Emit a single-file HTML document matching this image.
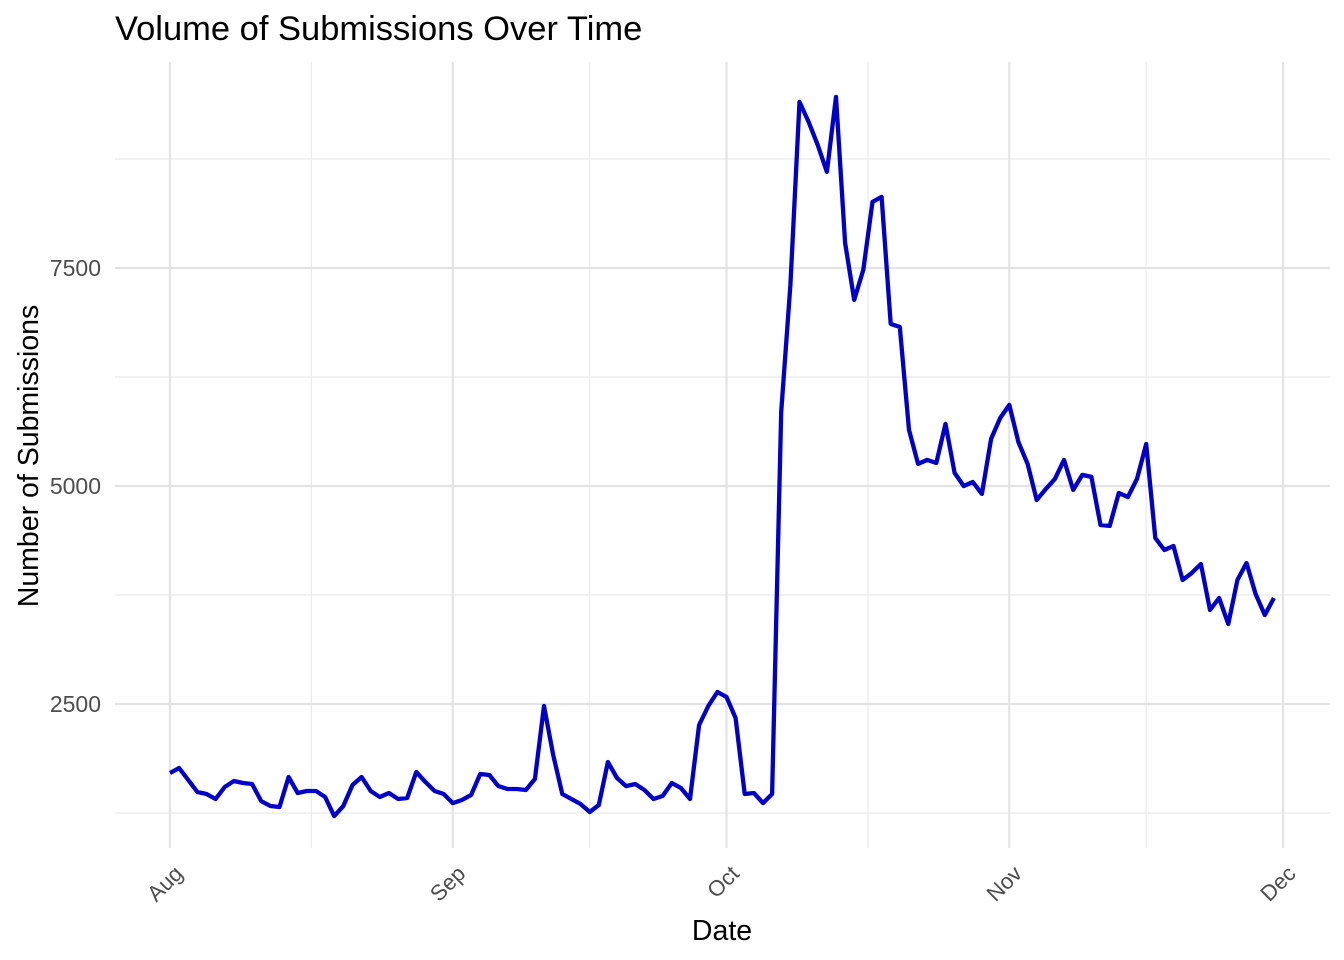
<!DOCTYPE html>
<html><head><meta charset="utf-8"><style>
body{margin:0;background:#fff;}
svg{display:block;font-family:"Liberation Sans",Arial,sans-serif;}
</style></head><body>
<svg id="chart" width="1344" height="960" viewBox="0 0 1344 960">
<text x="115" y="40" font-size="34.5" fill="#000">Volume of Submissions Over Time</text>
<g id="grid"></g>
<g id="axes"></g>
<text x="722" y="940" font-size="28.5" text-anchor="middle">Date</text>
<text transform="translate(38,456) rotate(-90)" font-size="28.5" text-anchor="middle">Number of Submissions</text>
<g id="series"></g>
</svg>
<script>
const monthLabels = ["Aug","Sep","Oct","Nov","Dec"];
const monthStartDays = [0,31,61,92,122];
const yTicks = [2500,5000,7500];
const yMinorTicks = [1250,3750,6250,8750];
const submissions = [
1709,1766,1628,1491,1468,1410,1548,1617,1594,1582,1387,1330,1319,1663,1479,1502,1502,1433,1215,1330,1571,1663,1502,1433,1479,1410,1422,1720,1605,1502,1468,
1364,1399,1456,1697,1686,1559,1525,1525,1514,1640,2477,1915,1468,1410,1353,1261,1342,1835,1651,1559,1582,1514,1410,1445,1594,1537,1410,2259,2477,2638,
2580,2339,1468,1479,1364,1468,5849,7306,9405,9176,8912,8602,9462,7788,7134,7478,8258,8315,6859,6824,5643,5253,5299,5264,5712,5150,5000,5046,4909,5540,5780,
5930,5505,5253,4840,4966,5081,5299,4955,5127,5104,4553,4542,4920,4874,5081,5482,4404,4266,4312,3922,4003,4106,3578,3716,3418,3922,4117,3762,3521,3716
];
const NS="http://www.w3.org/2000/svg";
const X0=115,X1=1330,Y0=62,Y1=848;
function xs(d){return 170+d*(1283-170)/122;}
function ys(v){return 704-(v-2500)*0.0872;}
function mk(tag,attrs,parent){const e=document.createElementNS(NS,tag);for(const k in attrs)e.setAttribute(k,attrs[k]);parent.appendChild(e);return e;}
const grid=document.getElementById('grid'),axes=document.getElementById('axes'),series=document.getElementById('series');
yMinorTicks.forEach(v=>{const l=mk('line',{x1:X0,x2:X1,y1:ys(v),y2:ys(v),stroke:'#ebebeb','stroke-width':1.2},grid);

});
for(let i=0;i<monthStartDays.length-1;i++){const d=(monthStartDays[i]+monthStartDays[i+1])/2;
const l=mk('line',{x1:xs(d),x2:xs(d),y1:Y0,y2:Y1,stroke:'#ebebeb','stroke-width':1.2},grid);

}
yTicks.forEach(v=>{const l=mk('line',{x1:X0,x2:X1,y1:ys(v),y2:ys(v),stroke:'#e3e3e3','stroke-width':2.2},grid);


const t=mk('text',{x:101,y:ys(v)+8,'font-size':23,'text-anchor':'end',fill:'#4d4d4d'},axes);t.textContent=v;

});
monthStartDays.forEach((d,i)=>{const x=xs(d);
const l=mk('line',{x1:x,x2:x,y1:Y0,y2:Y1,stroke:'#e3e3e3','stroke-width':2.2},grid);


const t=mk('text',{'font-size':22,'text-anchor':'end',fill:'#4d4d4d',transform:`translate(${x+14},${875}) rotate(-45)`},axes);t.textContent=monthLabels[i];

});
const pts=submissions.map((v,i)=>xs(i).toFixed(1)+','+ys(v).toFixed(1)).join(' ');
const line=mk('polyline',{points:pts,fill:'none',stroke:'#0000cd','stroke-width':4.3,'stroke-linejoin':'round','stroke-linecap':'butt'},series);


</script>
</body></html>
